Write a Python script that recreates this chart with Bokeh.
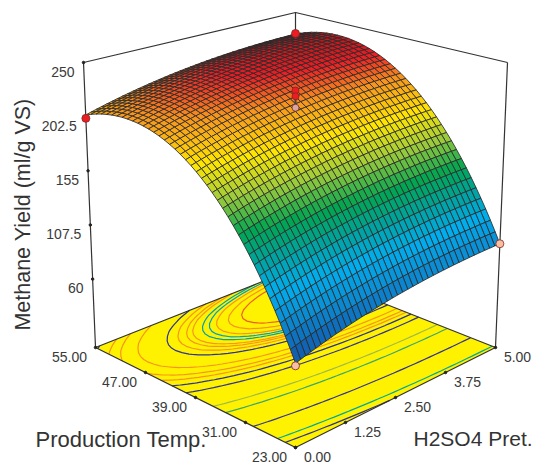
import numpy as np
from contourpy import contour_generator
from bokeh.plotting import figure
from bokeh.models import Range1d
from bokeh.core.properties import value
from bokeh.embed import file_html
from bokeh.resources import INLINE

# Methane yield read along the H2SO4 = 0 edge, Temp 23 -> 55 (41 mesh lines)
yield_along_temp = [66.0, 75.0, 83.7, 92.2, 100.3, 108.2, 115.8, 123.1, 130.1, 136.8, 143.3,
                    149.4, 155.3, 160.9, 166.2, 171.2, 175.9, 180.4, 184.5, 188.4, 192.0,
                    195.3, 198.3, 201.1, 203.5, 205.7, 207.6, 209.2, 210.5, 211.5, 212.3,
                    212.7, 212.9, 212.8, 212.4, 211.7, 210.7, 209.5, 207.9, 206.1, 204.0]
# Rise in yield read along the Temp = 23 edge, H2SO4 0 -> 5 (41 mesh lines)
gain_along_h2so4 = [0.0, 1.23, 2.44, 3.61, 4.75, 5.86, 6.94, 7.98, 9.0, 9.98, 10.94,
                    11.86, 12.75, 13.61, 14.44, 15.23, 16.0, 16.73, 17.44, 18.11, 18.75,
                    19.36, 19.94, 20.48, 21.0, 21.48, 21.94, 22.36, 22.75, 23.11, 23.44,
                    23.73, 24.0, 24.23, 24.44, 24.61, 24.75, 24.86, 24.94, 24.98, 25.0]

temp_ticks = [55, 47, 39, 31, 23]
temp_labels = ["55.00", "47.00", "39.00", "31.00", "23.00"]
h2so4_ticks = [0, 1.25, 2.5, 3.75, 5]
h2so4_labels = ["0.00", "1.25", "2.50", "3.75", "5.00"]
yield_ticks = [60, 107.5, 155, 202.5, 250]
yield_labels = ["60", "107.5", "155", "202.5", "250"]

design_temp = [55, 55, 39, 39, 39, 23, 23]
design_h2so4 = [0, 5, 2.5, 2.5, 2.5, 0, 5]
design_yield = [201, 229.5, 229, 224, 214, 64, 91]
design_color = ["#ed1c24", "#ed1c24", "#ed1c24", "#ed1c24", "#d8a8a0", "#f7bfa5", "#f7bfa5"]
design_size = [8, 8, 7, 7, 7, 8, 8]

contour_levels = [84, 97, 133, 166, 178, 198, 205, 209, 212, 216, 222, 224, 225.5, 226.5,
                  228, 229, 230, 231.5, 233, 237]
contour_colors = ["#2e3192", "#00a99d", "#2e3192", "#3aa86e", "#9dbb4a", "#2e3192", "#2e3192",
                  "#f7941d", "#f7941d", "#f7941d", "#2e3192", "#f7941d", "#f7941d", "#f7941d",
                  "#00a0b0", "#00a0c6", "#f7941d", "#f7941d", "#f15a24", "#2e3192"]

# Colour ramp stops (yield -> colour)
ramp_y = [60, 80, 95, 112, 130, 150, 172, 192, 215, 230, 243]
ramp_c = ["#174a9c", "#0e6fbe", "#0a90d6", "#00aeef", "#00a3a5", "#00a651", "#a0cc3a", "#ffe600",
          "#f7941d", "#ed1c24", "#b01218"]

# Camera: picture position of the eight box corners, indexed [temp 23/55][h2so4 0/5]
FLOOR = np.array([[[295, 447], [495, 347]], [[95, 347], [295, 268]]], dtype=float)
ROOF = np.array([[[295, 128], [507, 62]], [[83, 62], [295, 12]]], dtype=float)
Y_MIN, Y_MAX = 0.0, 250.0


def project(temp, h2so4, y):
    u = (np.asarray(temp, float) - 23.0) / 32.0
    v = np.asarray(h2so4, float) / 5.0
    w = (np.asarray(y, float) - Y_MIN) / (Y_MAX - Y_MIN)
    out = []
    for k in (0, 1):
        f = ((1 - u) * (1 - v) * FLOOR[0, 0, k] + (1 - u) * v * FLOOR[0, 1, k]
             + u * (1 - v) * FLOOR[1, 0, k] + u * v * FLOOR[1, 1, k])
        r = ((1 - u) * (1 - v) * ROOF[0, 0, k] + (1 - u) * v * ROOF[0, 1, k]
             + u * (1 - v) * ROOF[1, 0, k] + u * v * ROOF[1, 1, k])
        out.append(f + (r - f) * w)
    return out[0], out[1]


def ramp(y):
    rgb = np.array([[int(c[i:i + 2], 16) for i in (1, 3, 5)] for c in ramp_c], float)
    return "#%02x%02x%02x" % tuple(int(round(np.interp(y, ramp_y, rgb[:, k]))) for k in range(3))


temps = np.linspace(23, 55, len(yield_along_temp))
h2so4 = np.linspace(0, 5, len(gain_along_h2so4))
YG = np.array(yield_along_temp)[:, None] + np.array(gain_along_h2so4)[None, :]
TG, HG = np.meshgrid(temps, h2so4, indexing="ij")
PX, PY = project(TG, HG, YG)

p = figure(width=534, height=464, output_backend="svg", toolbar_location=None,
           x_range=Range1d(0, 534), y_range=Range1d(464, 0), min_border=0,
           outline_line_color=None)
p.axis.visible = False
p.grid.visible = False
p.background_fill_color = "white"

EDGE = "#333333"
# floor
fx, fy = project([23, 23, 55, 55], [0, 5, 5, 0], [0, 0, 0, 0])
p.patch(fx.tolist(), fy.tolist(), fill_color="#fff200", line_color=None)

# floor contours
gen = contour_generator(x=TG, y=HG, z=YG, line_type="Separate")
cx, cy, cc = [], [], []
for lev, col in zip(contour_levels, contour_colors):
    for seg in gen.lines(lev):
        sx, sy = project(seg[:, 0], seg[:, 1], np.zeros(len(seg)))
        cx.append(sx.tolist())
        cy.append(sy.tolist())
        cc.append(col)
p.multi_line(cx, cy, line_color=cc, line_width=1.2)

# box
box_paths = [
    ([55, 55, 23], [0, 5, 5], [250, 250, 250]),
    ([55, 55], [0, 0], [0, 250]),
    ([55, 55], [5, 5], [0, 250]),
    ([23, 23], [5, 5], [0, 250]),
    ([55, 23, 23, 55, 55], [0, 0, 5, 5, 0], [0, 0, 0, 0, 0]),
]
for t, h, y in box_paths:
    bx, by = project(t, h, y)
    p.line(bx.tolist(), by.tolist(), line_color=EDGE, line_width=1.2)

# surface, back cells first
n_t, n_h = YG.shape
cells = sorted(((i, j) for i in range(n_t - 1) for j in range(n_h - 1)), key=lambda c: -(c[0] + c[1]))
xs, ys, colors = [], [], []
for i, j in cells:
    idx = [(i, j), (i + 1, j), (i + 1, j + 1), (i, j + 1)]
    xs.append([float(PX[a]) for a in idx])
    ys.append([float(PY[a]) for a in idx])
    colors.append(ramp(np.mean([YG[a] for a in idx])))
p.patches(xs, ys, fill_color=colors, line_color="#2a2a2a", line_width=0.85)

# ticks and labels
font = value("Liberation Sans")
tick_col = "#3a3a3a"
tx, ty = project(temp_ticks, [0] * 5, [0] * 5)
hx, hy = project([23] * 5, h2so4_ticks, [0] * 5)
zx, zy = project([55] * 5, [0] * 5, yield_ticks)
p.scatter((list(tx) + list(hx) + list(zx)), (list(ty) + list(hy) + list(zy)), size=2.5, color="#222222")

p.text(x=(tx - 26).tolist(), y=(ty + 9).tolist(), text=temp_labels, text_font=font, text_font_size="14px",
       text_color=tick_col, text_align="center", text_baseline="middle")
p.text(x=(hx + 22).tolist(), y=(hy + 9).tolist(), text=h2so4_labels, text_font=font, text_font_size="14px",
       text_color=tick_col, text_align="center", text_baseline="middle")
p.text(x=(zx - 9).tolist(), y=(zy + 9).tolist(), text=yield_labels, text_font=font, text_font_size="14px",
       text_color=tick_col, text_align="right", text_baseline="middle")

p.text(x=[35], y=[439], text=["Production Temp."], text_font=font, text_font_size="22px",
       text_color="#333333", text_align="left", text_baseline="middle")
p.text(x=[413], y=[438], text=["H2SO4 Pret."], text_font=font, text_font_size="21px",
       text_color="#333333", text_align="left", text_baseline="middle")
p.text(x=[22], y=[214], text=["Methane Yield (ml/g VS)"], text_font=font, text_font_size="21.5px",
       text_color="#333333", text_align="center", text_baseline="middle", angle=np.pi / 2)

# design points
dx, dy = project(design_temp, design_h2so4, design_yield)
p.line(dx[2:5].tolist(), dy[2:5].tolist(), line_color="#444444", line_width=2)
p.scatter(dx.tolist(), dy.tolist(), size=design_size, fill_color=design_color, line_color="#7a2a20", line_width=0.8)

open("out.html", "w").write(file_html(p, INLINE))
